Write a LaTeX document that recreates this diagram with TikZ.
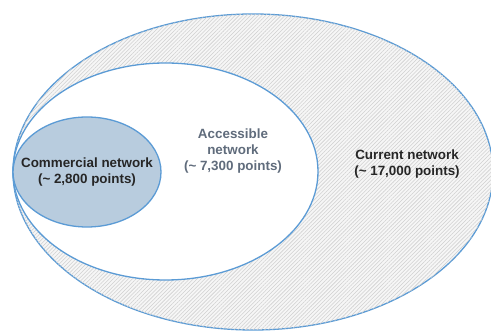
\documentclass[tikz,border=0pt]{standalone}
\usepackage{fontspec}
\setmainfont{Liberation Sans}
\usepackage{tikz}
\usetikzlibrary{patterns.meta}
\definecolor{ringblue}{RGB}{91,155,213}
\definecolor{commfill}{RGB}{184,204,222}
\definecolor{accgray}{RGB}{96,108,124}
\definecolor{darktext}{RGB}{38,38,38}
\definecolor{hatchgray}{RGB}{208,208,208}
\definecolor{hatchback}{RGB}{246,246,246}

\begin{document}
\begin{tikzpicture}[x=1pt, y=-1pt,
    ring/.style={draw=ringblue, line width=1.3pt},
    label/.style={font=\fontsize{13.4}{16}\selectfont\bfseries, align=center, text=darktext, inner sep=0pt}
]
    \useasboundingbox (0,0) rectangle (491,331);
    \clip (0,0) rectangle (491,331);

    % Ellipses
    \path[ring, fill=hatchback, postaction={pattern={Lines[angle=45, distance=2.7pt, line width=0.55pt]}, pattern color=hatchgray}]
        (253,172) ellipse [x radius=240, y radius=158];
    \path[ring, fill=white] (165.5,171.5) ellipse [x radius=152.5, y radius=108.5];
    \path[ring, fill=commfill] (87,172) ellipse [x radius=74, y radius=55];

    % Labels
    \node[label] (current) at (407,164.5) {Current network\\(\textasciitilde{} 17,000 points)};
    \node[label, text=accgray] (access) at (233,151) {Accessible\\network\\(\textasciitilde{} 7,300 points)};
    \node[label] (commercial) at (87,172.5) {Commercial network\\(\textasciitilde{} 2,800 points)};
\end{tikzpicture}
\end{document}
